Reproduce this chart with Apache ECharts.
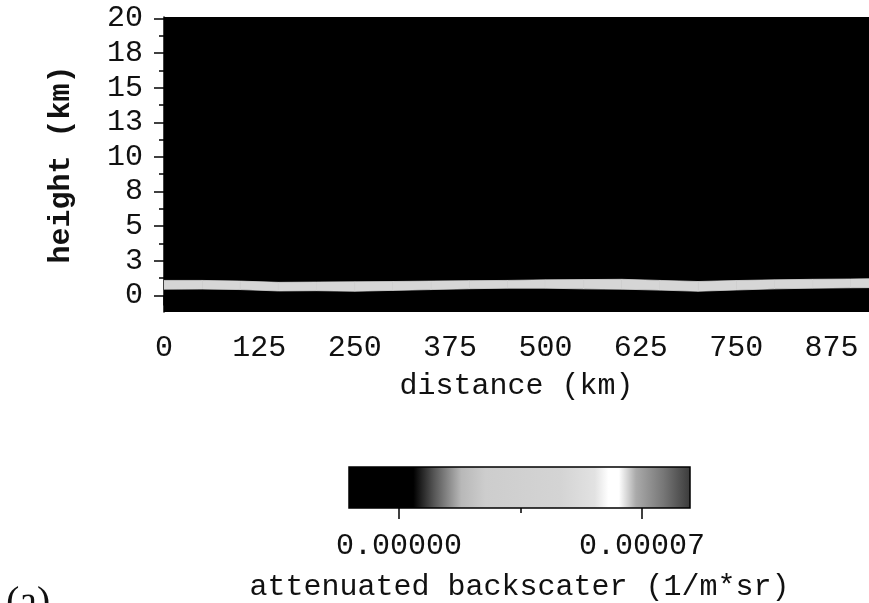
<!DOCTYPE html>
<html><head><meta charset="utf-8">
<script src="https://cdn.jsdelivr.net/npm/echarts@6/dist/echarts.min.js"></script>
<style>html,body{margin:0;padding:0;background:#fff}#c{width:869px;height:603px}</style>
</head><body><div id="c"></div>
<script>
// ---- data ----
const distances  = [0, 50, 100, 150, 200, 250, 300, 350, 400, 450, 500, 550, 600, 650, 700, 750, 800, 850, 900, 925];
const bandTop    = [1.08, 1.08, 1.03, 0.94, 0.96, 0.98, 1.00, 1.03, 1.06, 1.08, 1.12, 1.14, 1.16, 1.08, 1.00, 1.07, 1.12, 1.16, 1.18, 1.20];
const bandBottom = [0.45, 0.46, 0.42, 0.32, 0.34, 0.30, 0.36, 0.42, 0.48, 0.52, 0.52, 0.47, 0.45, 0.38, 0.30, 0.39, 0.47, 0.52, 0.55, 0.56];

const xTickValues      = [0, 125, 250, 375, 500, 625, 750, 875];
const xTickLabels      = ['0', '125', '250', '375', '500', '625', '750', '875'];
const xMinorTickValues = [62.5, 187.5, 312.5, 437.5, 562.5, 687.5, 812.5];
const xRange = [0, 924];

const yTickValues      = [0, 2.5, 5, 7.5, 10, 12.5, 15, 17.5, 20];
const yTickLabels      = ['0', '3', '5', '8', '10', '13', '15', '18', '20'];
const yMinorTickValues = [1.25, 3.75, 6.25, 8.75, 11.25, 13.75, 16.25, 18.75];
const yRange = [-1.2, 20.1];

const cbTickValues      = [0, 0.00007];
const cbTickLabels      = ['0.00000', '0.00007'];
const cbMinorTickValues = [0.000035];
const cbRange = [-0.0000144, 0.0000838];

// ---- chart ----
const FONT = 'Liberation Mono, Courier New, monospace';
const chart = echarts.init(document.getElementById('c'), null, {renderer: 'canvas'});

const bandData = distances.map((d, i) => [d, bandBottom[i], bandTop[i]]);

function labelFrom(values, labels) {
  return v => { const i = values.findIndex(t => Math.abs(t - v) < 1e-9); return i >= 0 ? labels[i] : ''; };
}

chart.setOption({
  animation: false,
  backgroundColor: '#fff',
  grid: [
    {left: 164, top: 17, width: 705, height: 295, show: true, backgroundColor: '#000', borderWidth: 0},
    {left: 349, top: 467, width: 341, height: 45, show: false}
  ],
  xAxis: [
    {type: 'value', gridIndex: 0, min: xRange[0], max: xRange[1], position: 'bottom',
     axisLine: {show: true, lineStyle: {color: '#000', width: 1.5}},
     axisTick: {show: true, customValues: xTickValues, length: 10, lineStyle: {color: '#000', width: 1.5}},
     axisLabel: {show: true, customValues: xTickValues, formatter: labelFrom(xTickValues, xTickLabels),
                 fontFamily: FONT, fontSize: 30, color: '#111', margin: 21},
     splitLine: {show: false},
     name: 'distance (km)', nameLocation: 'middle', nameGap: 59,
     nameTextStyle: {fontFamily: FONT, fontSize: 30, color: '#111'}},
    {type: 'value', gridIndex: 0, min: xRange[0], max: xRange[1], position: 'bottom',
     axisLine: {show: false},
     axisTick: {show: true, customValues: xMinorTickValues, length: 5, lineStyle: {color: '#000', width: 1.5}},
     axisLabel: {show: false}, splitLine: {show: false}},
    {type: 'value', gridIndex: 1, min: cbRange[0], max: cbRange[1], position: 'bottom',
     axisLine: {show: false},
     axisTick: {show: true, customValues: cbTickValues, length: 11, lineStyle: {color: '#000', width: 1.5}},
     axisLabel: {show: true, customValues: cbTickValues, formatter: labelFrom(cbTickValues, cbTickLabels),
                 fontFamily: FONT, fontSize: 30, color: '#111', margin: 23},
     splitLine: {show: false},
     name: 'attenuated backscater (1/m*sr)', nameLocation: 'middle', nameGap: 64,
     nameTextStyle: {fontFamily: FONT, fontSize: 30, color: '#111'}},
    {type: 'value', gridIndex: 1, min: cbRange[0], max: cbRange[1], position: 'bottom',
     axisLine: {show: false},
     axisTick: {show: true, customValues: cbMinorTickValues, length: 5, lineStyle: {color: '#000', width: 1.5}},
     axisLabel: {show: false}, splitLine: {show: false}}
  ],
  yAxis: [
    {type: 'value', gridIndex: 0, min: yRange[0], max: yRange[1], position: 'left',
     axisLine: {show: true, lineStyle: {color: '#000', width: 1.5}},
     axisTick: {show: true, customValues: yTickValues, length: 10, lineStyle: {color: '#000', width: 1.5}},
     axisLabel: {show: true, customValues: yTickValues, formatter: labelFrom(yTickValues, yTickLabels),
                 fontFamily: FONT, fontSize: 30, color: '#111', margin: 21},
     splitLine: {show: false},
     name: 'height (km)', nameLocation: 'middle', nameGap: 88, nameRotate: 90,
     nameTextStyle: {fontFamily: FONT, fontSize: 30, fontWeight: 'bold', color: '#111'}},
    {type: 'value', gridIndex: 0, min: yRange[0], max: yRange[1], position: 'left',
     axisLine: {show: false},
     axisTick: {show: true, customValues: yMinorTickValues, length: 5, lineStyle: {color: '#000', width: 1.5}},
     axisLabel: {show: false}, splitLine: {show: false}},
    {type: 'value', gridIndex: 1, min: 0, max: 1, show: false}
  ],
  series: [
    {
      type: 'custom', xAxisIndex: 0, yAxisIndex: 0, clip: true,
      data: bandData,
      encode: {x: 0, y: [1, 2]},
      renderItem: function (params, api) {
        const i = params.dataIndex;
        if (i >= bandData.length - 1) return null;
        const a = bandData[i], b = bandData[i + 1];
        const pts = [
          api.coord([a[0], a[2]]), api.coord([b[0], b[2]]),
          api.coord([b[0], b[1]]), api.coord([a[0], a[1]])
        ];
        return {type: 'polygon', shape: {points: pts},
                style: {fill: '#d6d6d6', stroke: '#d6d6d6', lineWidth: 0.8}};
      }
    },
    {
      type: 'custom', xAxisIndex: 2, yAxisIndex: 2, clip: false,
      data: [[cbRange[0], cbRange[1], 0, 1]],
      encode: {x: [0, 1], y: [2, 3]},
      renderItem: function (params, api) {
        const p0 = api.coord([api.value(0), api.value(3)]);
        const p1 = api.coord([api.value(1), api.value(2)]);
        return {type: 'rect',
          shape: {x: p0[0], y: p0[1], width: p1[0] - p0[0], height: p1[1] - p0[1]},
          style: {
            stroke: '#000', lineWidth: 1.5,
            fill: new echarts.graphic.LinearGradient(0, 0, 1, 0, [
              {offset: 0, color: '#000'}, {offset: 0.19, color: '#000'},
              {offset: 0.25, color: '#555'}, {offset: 0.33, color: '#b8b8b8'},
              {offset: 0.40, color: '#cdcdcd'}, {offset: 0.62, color: '#d4d4d4'},
              {offset: 0.72, color: '#e2e2e2'}, {offset: 0.76, color: '#fff'},
              {offset: 0.79, color: '#fff'}, {offset: 0.84, color: '#aaa'},
              {offset: 0.92, color: '#777'}, {offset: 1, color: '#3a3a3a'}
            ])
          }};
      }
    }
  ],
  graphic: [
    {type: 'text', left: 6, top: 583,
     style: {text: '(a)', font: '40px "Liberation Serif", serif', fill: '#111'}}
  ]
});
</script>
</body></html>
